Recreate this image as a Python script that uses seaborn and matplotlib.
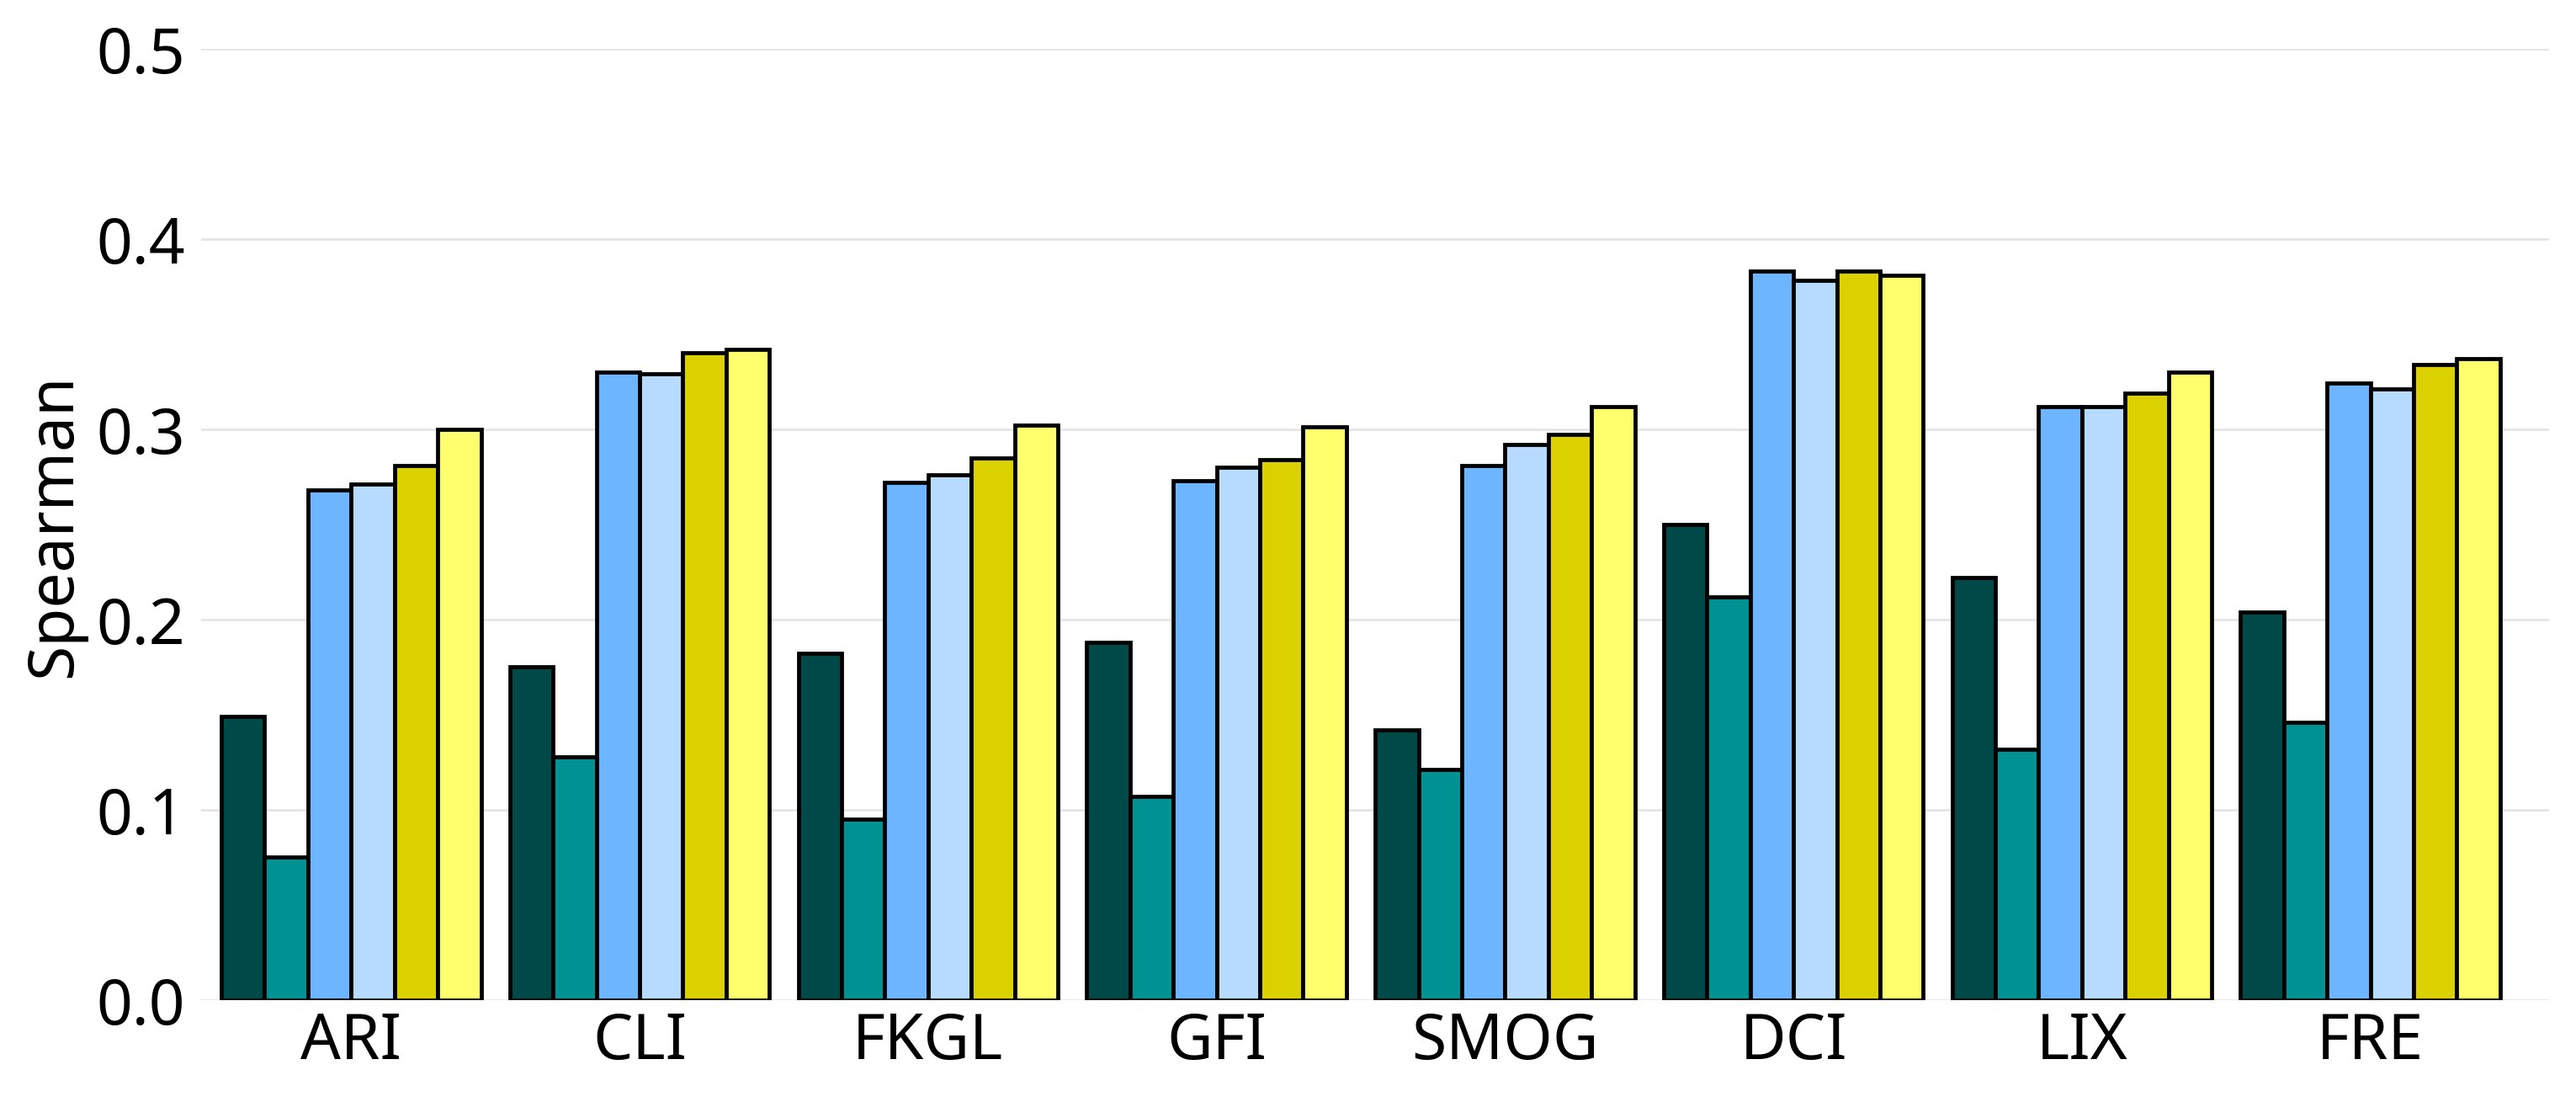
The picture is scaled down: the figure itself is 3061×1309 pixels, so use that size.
import matplotlib
matplotlib.use("Agg")
import matplotlib.pyplot as plt
import seaborn as sns
import pandas as pd

metrics = ["ARI", "CLI", "FKGL", "GFI", "SMOG", "DCI", "LIX", "FRE"]
series_names = ["S1", "S2", "S3", "S4", "S5", "S6"]
s1 = [0.149, 0.175, 0.182, 0.188, 0.142, 0.250, 0.222, 0.204]
s2 = [0.075, 0.128, 0.095, 0.107, 0.121, 0.212, 0.132, 0.146]
s3 = [0.268, 0.330, 0.272, 0.273, 0.281, 0.383, 0.312, 0.324]
s4 = [0.271, 0.329, 0.276, 0.280, 0.292, 0.378, 0.312, 0.321]
s5 = [0.281, 0.340, 0.285, 0.284, 0.297, 0.383, 0.319, 0.334]
s6 = [0.300, 0.342, 0.302, 0.301, 0.312, 0.381, 0.330, 0.337]
colors = ["#004949", "#009292", "#6db6ff", "#b6dbff", "#dbd100", "#ffff6d"]

rows = []
for name, vals in zip(series_names, [s1, s2, s3, s4, s5, s6]):
    for m, v in zip(metrics, vals):
        rows.append({"metric": m, "series": name, "value": v})
df = pd.DataFrame(rows)

sns.set_theme(style="white")
plt.rcParams["font.family"] = ["Noto Sans", "DejaVu Sans"]

fig = plt.figure(figsize=(3061 / 300, 1310 / 300), dpi=300)
ax = fig.add_axes([0.0781, 0.0924, 0.9115, 0.8629])

sns.barplot(data=df, x="metric", y="value", hue="series", order=metrics,
            hue_order=series_names, palette=colors, width=0.9,
            edgecolor="black", linewidth=1.15, saturation=1, legend=False, ax=ax)

ax.set_ylim(0, 0.5)
ax.set_xlim(-0.52, 7.62)
ax.set_yticks([0.0, 0.1, 0.2, 0.3, 0.4, 0.5])
ax.set_yticklabels(["0.0", "0.1", "0.2", "0.3", "0.4", "0.5"])
ax.yaxis.grid(True, color="#e3e3e3", linewidth=0.6)
ax.set_axisbelow(True)
for s in ax.spines.values():
    s.set_visible(False)
ax.tick_params(axis="both", length=0, labelsize=18, colors="black")
ax.tick_params(axis="y", pad=4.5)
ax.tick_params(axis="x", pad=3)
ax.set_xlabel("")
ax.set_ylabel("Spearman", fontsize=18, color="black", labelpad=3)

fig.savefig("out.png", dpi=300)
